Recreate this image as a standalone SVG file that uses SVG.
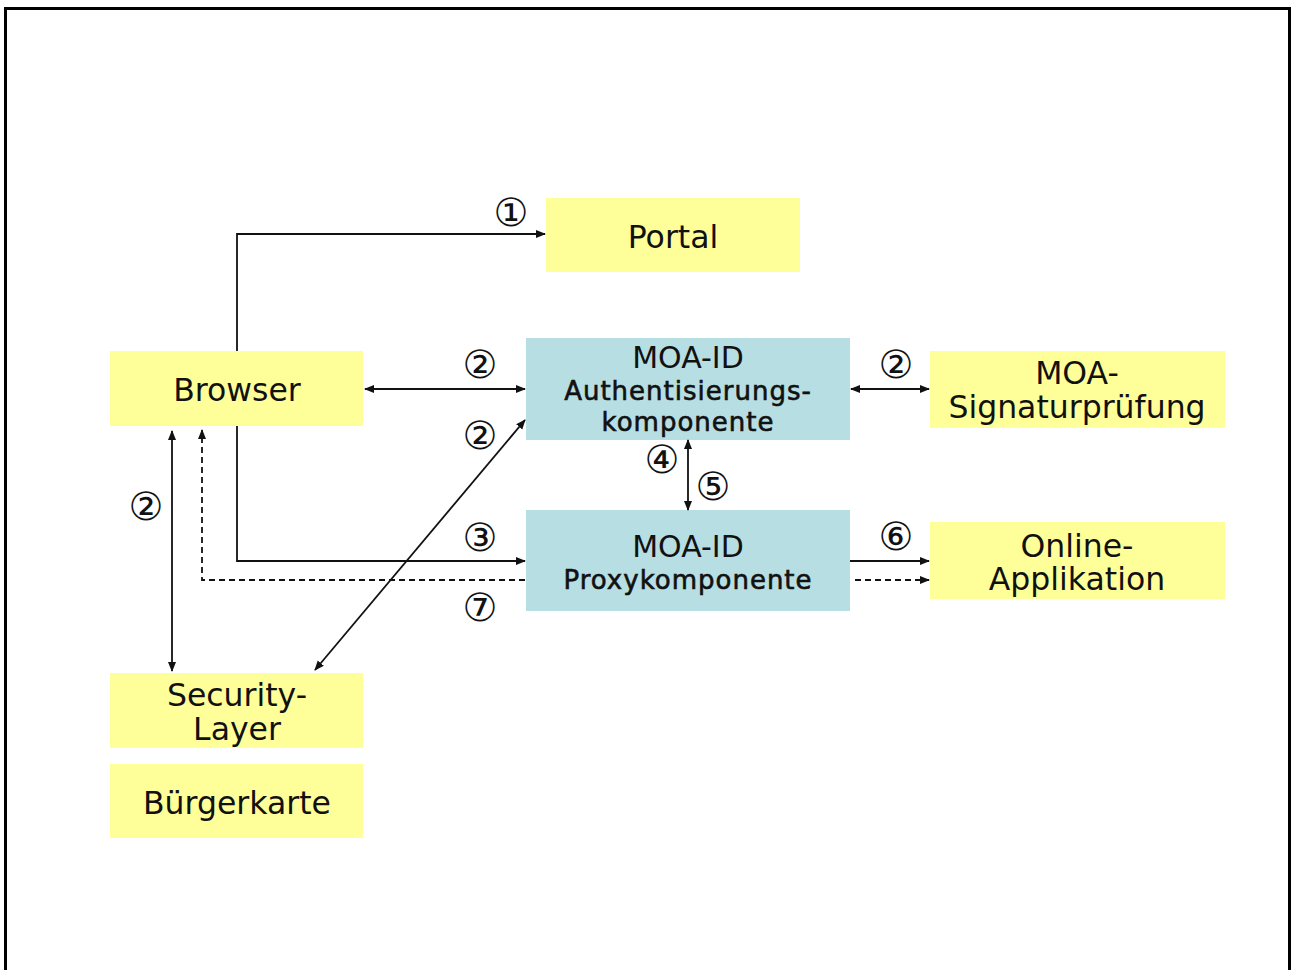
<svg xmlns="http://www.w3.org/2000/svg" width="1292" height="970" viewBox="0 0 1292 970">
<style>
.y{fill:#FFFF99}
.b{fill:#B7DEE2}
.t{font-family:"DejaVu Sans","Liberation Sans",sans-serif;font-size:31.5px;fill:#111;text-anchor:middle}
.m{font-family:"DejaVu Sans","Liberation Sans",sans-serif;font-size:30px;fill:#111;text-anchor:middle}
.s{font-family:"DejaVu Sans","Liberation Sans",sans-serif;font-size:26px;letter-spacing:1px;fill:#111;stroke:#111;stroke-width:0.6;text-anchor:middle}
.n{font-family:"DejaVu Sans","Noto Sans CJK JP",sans-serif;font-size:39px;fill:#111;text-anchor:middle;dominant-baseline:central}
.c{fill:none;stroke:#111;stroke-width:1.8}
.d{stroke-dasharray:6 4}
</style>
<defs>
<marker id="ah" viewBox="0 0 10 10" refX="9" refY="5" markerWidth="10" markerHeight="10" markerUnits="userSpaceOnUse" orient="auto-start-reverse">
<path d="M0,1 L10,5 L0,9 z" fill="#111"/>
</marker>
</defs>
<rect x="5.5" y="8.5" width="1284" height="1000" fill="#fff" stroke="#000" stroke-width="3"/>
<g id="portal"><rect class="y" x="546" y="198" width="254" height="74"/><text class="t" x="673" y="248">Portal</text></g>
<g id="browser"><rect class="y" x="110" y="351" width="253" height="75"/><text class="t" x="237" y="401">Browser</text></g>
<g id="auth"><rect class="b" x="526" y="338" width="324" height="102"/>
<text class="m" x="688" y="368">MOA-ID</text>
<text class="s" x="688" y="400">Authentisierungs-</text>
<text class="s" x="688" y="431">komponente</text></g>
<g id="sig"><rect class="y" x="930" y="351" width="295" height="77"/>
<text class="t" x="1077" y="384">MOA-</text>
<text class="t" x="1077" y="418">Signaturprüfung</text></g>
<g id="proxy"><rect class="b" x="526" y="510" width="324" height="101"/>
<text class="m" x="688" y="557">MOA-ID</text>
<text class="s" x="688" y="589">Proxykomponente</text></g>
<g id="online"><rect class="y" x="930" y="522" width="295" height="77"/>
<text class="t" x="1077" y="557">Online-</text>
<text class="t" x="1077" y="590">Applikation</text></g>
<g id="security"><rect class="y" x="110" y="673" width="253" height="75"/>
<text class="t" x="237" y="706">Security-</text>
<text class="t" x="237" y="740">Layer</text></g>
<g id="buergerkarte"><rect class="y" x="110" y="764" width="253" height="74"/>
<text class="t" x="237" y="814">Bürgerkarte</text></g>
<g id="connectors">
<path class="c" d="M237,351 V234 H545" marker-end="url(#ah)"/>
<path class="c" d="M365,389 H525" marker-start="url(#ah)" marker-end="url(#ah)"/>
<path class="c" d="M851,389 H929" marker-start="url(#ah)" marker-end="url(#ah)"/>
<path class="c" d="M315,670 L525,420" marker-start="url(#ah)" marker-end="url(#ah)"/>
<path class="c" d="M237,426 V561 H525" marker-end="url(#ah)"/>
<path class="c d" d="M525,580 H202 V430" marker-end="url(#ah)"/>
<path class="c" d="M172,431 V671" marker-start="url(#ah)" marker-end="url(#ah)"/>
<path class="c" d="M688,440 V510" marker-start="url(#ah)" marker-end="url(#ah)"/>
<path class="c" d="M850,561 H929" marker-end="url(#ah)"/>
<path class="c d" d="M855,580 H929" marker-end="url(#ah)"/>
<text class="n" x="511" y="212">①</text>
<text class="n" x="480" y="364">②</text>
<text class="n" x="896" y="364">②</text>
<text class="n" x="480" y="435">②</text>
<text class="n" x="146" y="506">②</text>
<text class="n" x="480" y="537">③</text>
<text class="n" x="662" y="459">④</text>
<text class="n" x="713" y="486">⑤</text>
<text class="n" x="896" y="536">⑥</text>
<text class="n" x="480" y="607">⑦</text>
</g>
</svg>
